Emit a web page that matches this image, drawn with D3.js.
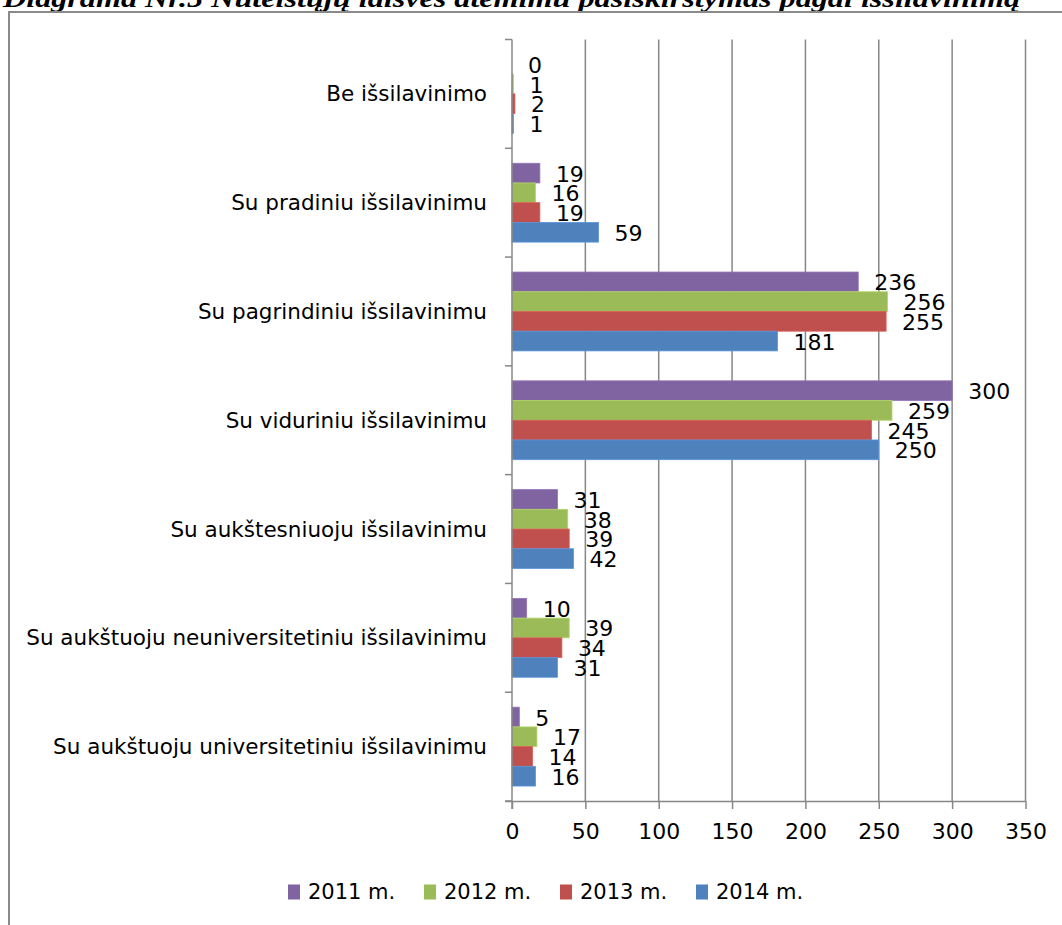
<!DOCTYPE html>
<html>
<head>
<meta charset="utf-8">
<script src="https://cdn.jsdelivr.net/npm/d3@7"></script>
<style>
  body { margin: 0; background: #fff; }
  svg { display: block; }
</style>
</head>
<body>
<svg id="chart" width="1062" height="925"></svg>
<script>
const categories = [
  "Be išsilavinimo",
  "Su pradiniu išsilavinimu",
  "Su pagrindiniu išsilavinimu",
  "Su viduriniu išsilavinimu",
  "Su aukštesniuoju išsilavinimu",
  "Su aukštuoju neuniversitetiniu išsilavinimu",
  "Su aukštuoju universitetiniu išsilavinimu"
];
const seriesNames = ["2011 m.", "2012 m.", "2013 m.", "2014 m."];
const values2011 = [0, 19, 236, 300, 31, 10, 5];
const values2012 = [1, 16, 256, 259, 38, 39, 17];
const values2013 = [2, 19, 255, 245, 39, 34, 14];
const values2014 = [1, 59, 181, 250, 42, 31, 16];
const seriesColors = ["#8064A2", "#9BBB59", "#C0504D", "#4F81BD"];
const xTicks = [0, 50, 100, 150, 200, 250, 300, 350];
const titleText = "Diagrama Nr.5 Nuteistųjų laisvės atėmimu pasiskirstymas pagal išsilavinimą";

const seriesValues = [values2011, values2012, values2013, values2014];

const svg = d3.select("#chart");
const FONT = "'DejaVu Sans', 'Open Sans', sans-serif";

// Title (partly cut off at top)
svg.append("text")
  .attr("x", 3).attr("y", 7)
  .attr("font-family", "'Liberation Serif', 'Times New Roman', serif")
  .attr("font-weight", "bold").attr("font-style", "italic")
  .attr("font-size", 25)
  .attr("textLength", 1017).attr("lengthAdjust", "spacingAndGlyphs")
  .text(titleText);

// Frame
svg.append("rect")
  .attr("x", 9).attr("y", 12).attr("width", 1200).attr("height", 1000)
  .attr("fill", "none").attr("stroke", "#8a8a8a").attr("stroke-width", 2);

const plotLeft = 512, plotRight = 1025.5, plotTop = 39.5, plotBottom = 801;

const x = d3.scaleLinear().domain([0, 350]).range([plotLeft, plotRight]);
const y = d3.scaleBand().domain(categories).range([plotTop, plotBottom])
  .paddingInner(0.275).paddingOuter(0.1375);
const ySub = d3.scaleBand().domain(seriesNames).range([0, y.bandwidth()]);

const gridColor = "#878787";

// Vertical gridlines
svg.append("g").selectAll("line").data(xTicks.slice(1)).join("line")
  .attr("x1", d => x(d)).attr("x2", d => x(d))
  .attr("y1", plotTop).attr("y2", plotBottom)
  .attr("stroke", gridColor).attr("stroke-width", 1.5);

// Bars
const groups = svg.append("g").selectAll("g").data(categories).join("g")
  .attr("transform", d => `translate(0,${y(d)})`);

groups.each(function(cat, ci) {
  const g = d3.select(this);
  seriesNames.forEach((s, si) => {
    const v = seriesValues[si][ci];
    g.append("rect")
      .attr("x", x(0)).attr("y", ySub(s))
      .attr("width", x(v) - x(0)).attr("height", ySub.bandwidth())
      .attr("fill", seriesColors[si])
      .attr("stroke", d3.color(seriesColors[si]).brighter(0.4))
      .attr("stroke-width", 0.8);
  });
});

// Axes
const xAxis = d3.axisBottom(x).tickValues(xTicks).tickSize(8).tickPadding(14)
  .tickFormat(d3.format("d"));
const gx = svg.append("g").attr("transform", `translate(0,${plotBottom})`).call(xAxis);
gx.select(".domain").attr("stroke", gridColor).attr("stroke-width", 1.5)
  .attr("d", `M${plotLeft - 7},0.5H${plotRight}`);
gx.selectAll(".tick line").attr("stroke", gridColor).attr("stroke-width", 1.5);
gx.selectAll(".tick text").attr("font-family", FONT).attr("font-size", 22).attr("fill", "#000");

// Y axis line with category-boundary ticks
const yBounds = d3.range(categories.length + 1).map(i => plotTop + i * y.step());
svg.append("line")
  .attr("x1", plotLeft).attr("x2", plotLeft).attr("y1", plotTop).attr("y2", plotBottom + 8)
  .attr("stroke", gridColor).attr("stroke-width", 1.5);
svg.append("g").selectAll("line").data(yBounds).join("line")
  .attr("x1", plotLeft - 7).attr("x2", plotLeft)
  .attr("y1", d => d).attr("y2", d => d)
  .attr("stroke", gridColor).attr("stroke-width", 1.5);

// Category labels
svg.append("g").selectAll("text").data(categories).join("text")
  .attr("x", 487).attr("y", d => y(d) + y.bandwidth() / 2)
  .attr("text-anchor", "end").attr("dominant-baseline", "central")
  .attr("font-family", FONT).attr("font-size", 21.5).attr("fill", "#000")
  .text(d => d);

// Data labels
groups.each(function(cat, ci) {
  const g = d3.select(this);
  seriesNames.forEach((s, si) => {
    const v = seriesValues[si][ci];
    g.append("text")
      .attr("x", x(v) + 16).attr("y", ySub(s) + ySub.bandwidth() / 2 + 1)
      .attr("dominant-baseline", "central")
      .attr("font-family", FONT).attr("font-size", 22).attr("fill", "#000")
      .text(v);
  });
});

// Legend
const legendX = [288, 424, 560, 696];
const legend = svg.append("g").selectAll("g").data(seriesNames).join("g")
  .attr("transform", (d, i) => `translate(${legendX[i]},892)`);
legend.append("rect")
  .attr("x", 0).attr("y", -7.5).attr("width", 12).attr("height", 15)
  .attr("fill", (d, i) => seriesColors[i]);
legend.append("text")
  .attr("x", 20).attr("y", 0).attr("dominant-baseline", "central")
  .attr("font-family", FONT).attr("font-size", 21).attr("fill", "#000")
  .text(d => d);
</script>
</body>
</html>
